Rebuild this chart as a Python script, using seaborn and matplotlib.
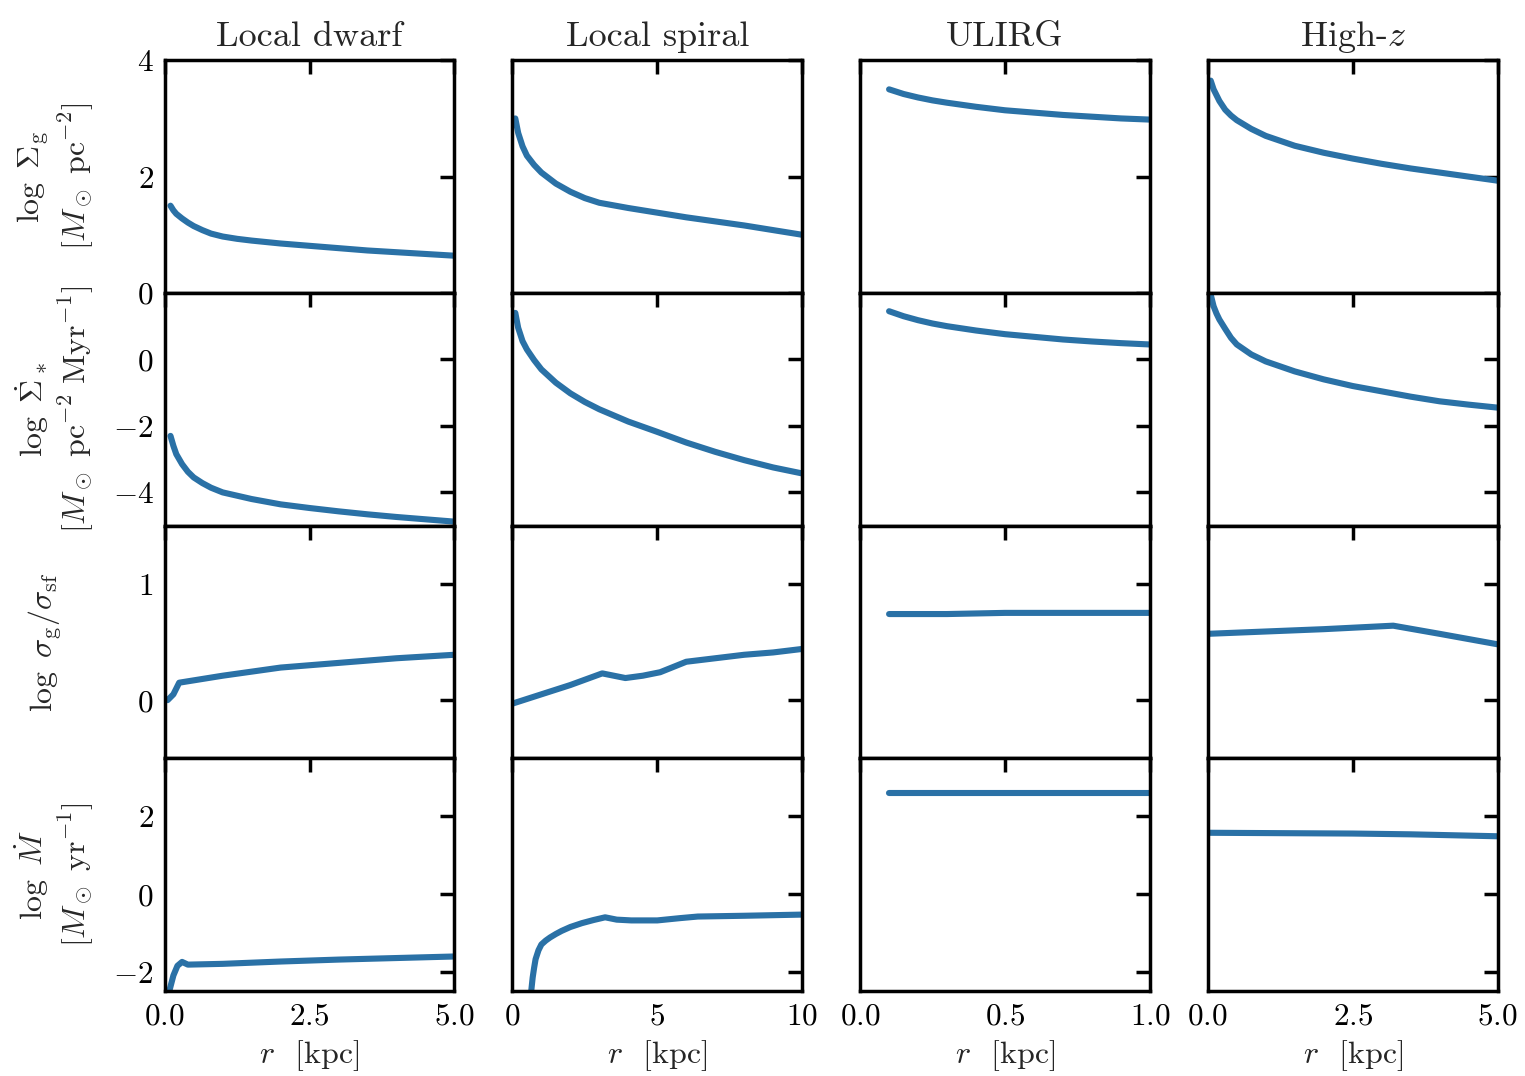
import numpy as np
import pandas as pd
import matplotlib
matplotlib.use("Agg")
import matplotlib.pyplot as plt
import seaborn as sns

# ---------------- data ----------------
titles = ["Local dwarf", "Local spiral", "ULIRG", "High-$z$"]
row_labels = [
    "$\\log\\ \\Sigma_{\\rm g}$\n$[M_\\odot\\ {\\rm pc}^{-2}]$",
    "$\\log\\ \\dot{\\Sigma}_*$\n$[M_\\odot\\ {\\rm pc}^{-2}\\ {\\rm Myr}^{-1}]$",
    "$\\log\\ \\sigma_{\\rm g}/\\sigma_{\\rm sf}$\n",
    "$\\log\\ \\dot{M}$\n$[M_\\odot\\ {\\rm yr}^{-1}]$",
]

# Local dwarf
dwarf_r12 = [0.1, 0.15, 0.2, 0.3, 0.4, 0.5, 0.65, 0.8, 1.0, 1.25, 1.5, 2.0, 2.5, 3.0, 3.5, 4.0, 4.5, 5.0]
dwarf_sigg = [1.5, 1.42, 1.36, 1.28, 1.21, 1.15, 1.08, 1.02, 0.97, 0.93, 0.9, 0.85, 0.81, 0.77, 0.73, 0.7, 0.67, 0.64]
dwarf_sfr = [-2.3, -2.6, -2.85, -3.15, -3.38, -3.55, -3.72, -3.86, -4.0, -4.1, -4.2, -4.36, -4.47, -4.57, -4.66, -4.74, -4.81, -4.88]
dwarf_r3 = [0.05, 0.15, 0.25, 0.5, 1.0, 2.0, 3.0, 4.0, 5.0]
dwarf_ratio = [0.0, 0.05, 0.15, 0.17, 0.21, 0.28, 0.32, 0.36, 0.39]
dwarf_r4 = [0.08, 0.15, 0.22, 0.3, 0.4, 1.0, 2.0, 3.0, 4.0, 5.0]
dwarf_mdot = [-2.5, -2.1, -1.85, -1.75, -1.82, -1.8, -1.74, -1.69, -1.65, -1.61]

# Local spiral
spiral_r12 = [0.1, 0.2, 0.35, 0.5, 0.75, 1.0, 1.5, 2.0, 2.5, 3.0, 4.0, 5.0, 6.0, 7.0, 8.0, 9.0, 10.0]
spiral_sigg = [3.0, 2.75, 2.52, 2.36, 2.2, 2.07, 1.88, 1.74, 1.63, 1.55, 1.46, 1.38, 1.3, 1.23, 1.16, 1.08, 1.0]
spiral_sfr = [1.4, 0.95, 0.55, 0.3, -0.02, -0.3, -0.7, -1.02, -1.28, -1.5, -1.87, -2.18, -2.5, -2.78, -3.03, -3.25, -3.43]
spiral_r3 = [0.0, 1.0, 2.0, 3.1, 3.5, 3.9, 4.5, 5.1, 5.6, 6.0, 7.0, 8.0, 9.0, 10.0]
spiral_ratio = [-0.03, 0.05, 0.13, 0.23, 0.21, 0.19, 0.21, 0.24, 0.29, 0.33, 0.36, 0.39, 0.41, 0.44]
spiral_r4 = [0.65, 0.7, 0.75, 0.8, 0.9, 1.0, 1.15, 1.3, 1.5, 1.7, 2.0, 2.4, 2.8, 3.2, 3.6, 4.1, 5.0, 5.8, 6.4, 8.0, 10.0]
spiral_mdot = [-2.5, -2.15, -1.9, -1.68, -1.45, -1.3, -1.2, -1.12, -1.03, -0.95, -0.85, -0.75, -0.67, -0.6,
               -0.66, -0.68, -0.68, -0.62, -0.58, -0.56, -0.53]

# ULIRG
ulirg_r = [0.1, 0.15, 0.2, 0.25, 0.3, 0.4, 0.5, 0.6, 0.7, 0.8, 0.9, 1.0]
ulirg_sigg = [3.5, 3.42, 3.36, 3.31, 3.27, 3.2, 3.14, 3.1, 3.06, 3.03, 3.0, 2.98]
ulirg_sfr = [1.45, 1.3, 1.18, 1.08, 1.0, 0.87, 0.76, 0.68, 0.6, 0.54, 0.49, 0.45]
ulirg_ratio = [0.74, 0.74, 0.74, 0.74, 0.74, 0.745, 0.75, 0.75, 0.75, 0.75, 0.75, 0.75]
ulirg_mdot = [2.6, 2.6, 2.6, 2.6, 2.6, 2.6, 2.6, 2.6, 2.6, 2.6, 2.6, 2.6]

# High-z
highz_r12 = [0.05, 0.1, 0.15, 0.2, 0.3, 0.4, 0.5, 0.75, 1.0, 1.5, 2.0, 2.5, 3.0, 3.5, 4.0, 4.5, 5.0]
highz_sigg = [3.65, 3.5, 3.4, 3.3, 3.15, 3.05, 2.97, 2.82, 2.7, 2.53, 2.41, 2.31, 2.22, 2.14, 2.07, 2.0, 1.93]
highz_sfr = [1.95, 1.6, 1.38, 1.2, 0.92, 0.65, 0.45, 0.15, -0.06, -0.36, -0.6, -0.8, -0.96, -1.12, -1.26, -1.36, -1.45]
highz_r3 = [0.0, 1.0, 2.0, 3.2, 4.0, 5.0]
highz_ratio = [0.57, 0.59, 0.61, 0.64, 0.57, 0.48]
highz_r4 = [0.0, 2.5, 3.5, 5.0]
highz_mdot = [1.58, 1.56, 1.54, 1.49]

panels = [
    [(dwarf_r12, dwarf_sigg), (spiral_r12, spiral_sigg), (ulirg_r, ulirg_sigg), (highz_r12, highz_sigg)],
    [(dwarf_r12, dwarf_sfr), (spiral_r12, spiral_sfr), (ulirg_r, ulirg_sfr), (highz_r12, highz_sfr)],
    [(dwarf_r3, dwarf_ratio), (spiral_r3, spiral_ratio), (ulirg_r, ulirg_ratio), (highz_r3, highz_ratio)],
    [(dwarf_r4, dwarf_mdot), (spiral_r4, spiral_mdot), (ulirg_r, ulirg_mdot), (highz_r4, highz_mdot)],
]

xlims = [(0, 5), (0, 10), (0, 1), (0, 5)]
xticks = [[0, 2.5, 5], [0, 5, 10], [0, 0.5, 1.0], [0, 2.5, 5]]
ylims = [(0, 4), (-5, 2), (-0.5, 1.5), (-2.5, 3.5)]
yticks = [[0, 2, 4], [-4, -2, 0], [0, 1], [-2, 0, 2]]

# ---------------- style ----------------
sns.set_theme(style="white")
plt.rcParams.update({
    "font.family": ["cmr10", "DejaVu Serif"],
    "mathtext.fontset": "cm",
    "axes.formatter.use_mathtext": True,
    "axes.unicode_minus": True,
    "font.size": 22,
})

line_color = "#2a71a6"

fig, axes = plt.subplots(4, 4, figsize=(15.25, 10.76), dpi=100, sharex="col", sharey="row")
fig.subplots_adjust(left=0.108, right=0.982, top=0.944, bottom=0.079, wspace=0.2, hspace=0.0)

for i in range(4):
    for j in range(4):
        ax = axes[i, j]
        r, v = panels[i][j]
        df = pd.DataFrame({"r": r, "v": v})
        sns.lineplot(data=df, x="r", y="v", ax=ax, color=line_color, lw=4.4, sort=False)
        ax.set_xlim(*xlims[j])
        ax.set_ylim(*ylims[i])
        ax.set_xticks(xticks[j])
        ax.set_yticks(yticks[i])
        ax.tick_params(direction="in", top=True, right=True, length=10, width=2.5,
                       labelsize=22.5, pad=8, colors="black")
        for s in ax.spines.values():
            s.set_linewidth(2.5)
            s.set_color("black")
        ax.set_xlabel("")
        ax.set_ylabel("")
        if i == 3:
            ax.set_xlabel("$r$  [kpc]", fontsize=23, labelpad=6)
        if i == 0:
            ax.set_title(titles[j], fontsize=26, pad=10)
        if j == 0:
            ax.set_ylabel(row_labels[i], fontsize=23, labelpad=12, linespacing=1.2)
        else:
            ax.tick_params(labelleft=False)

fig.align_ylabels(axes[:, 0])
fig.savefig("out.png", dpi=100)
